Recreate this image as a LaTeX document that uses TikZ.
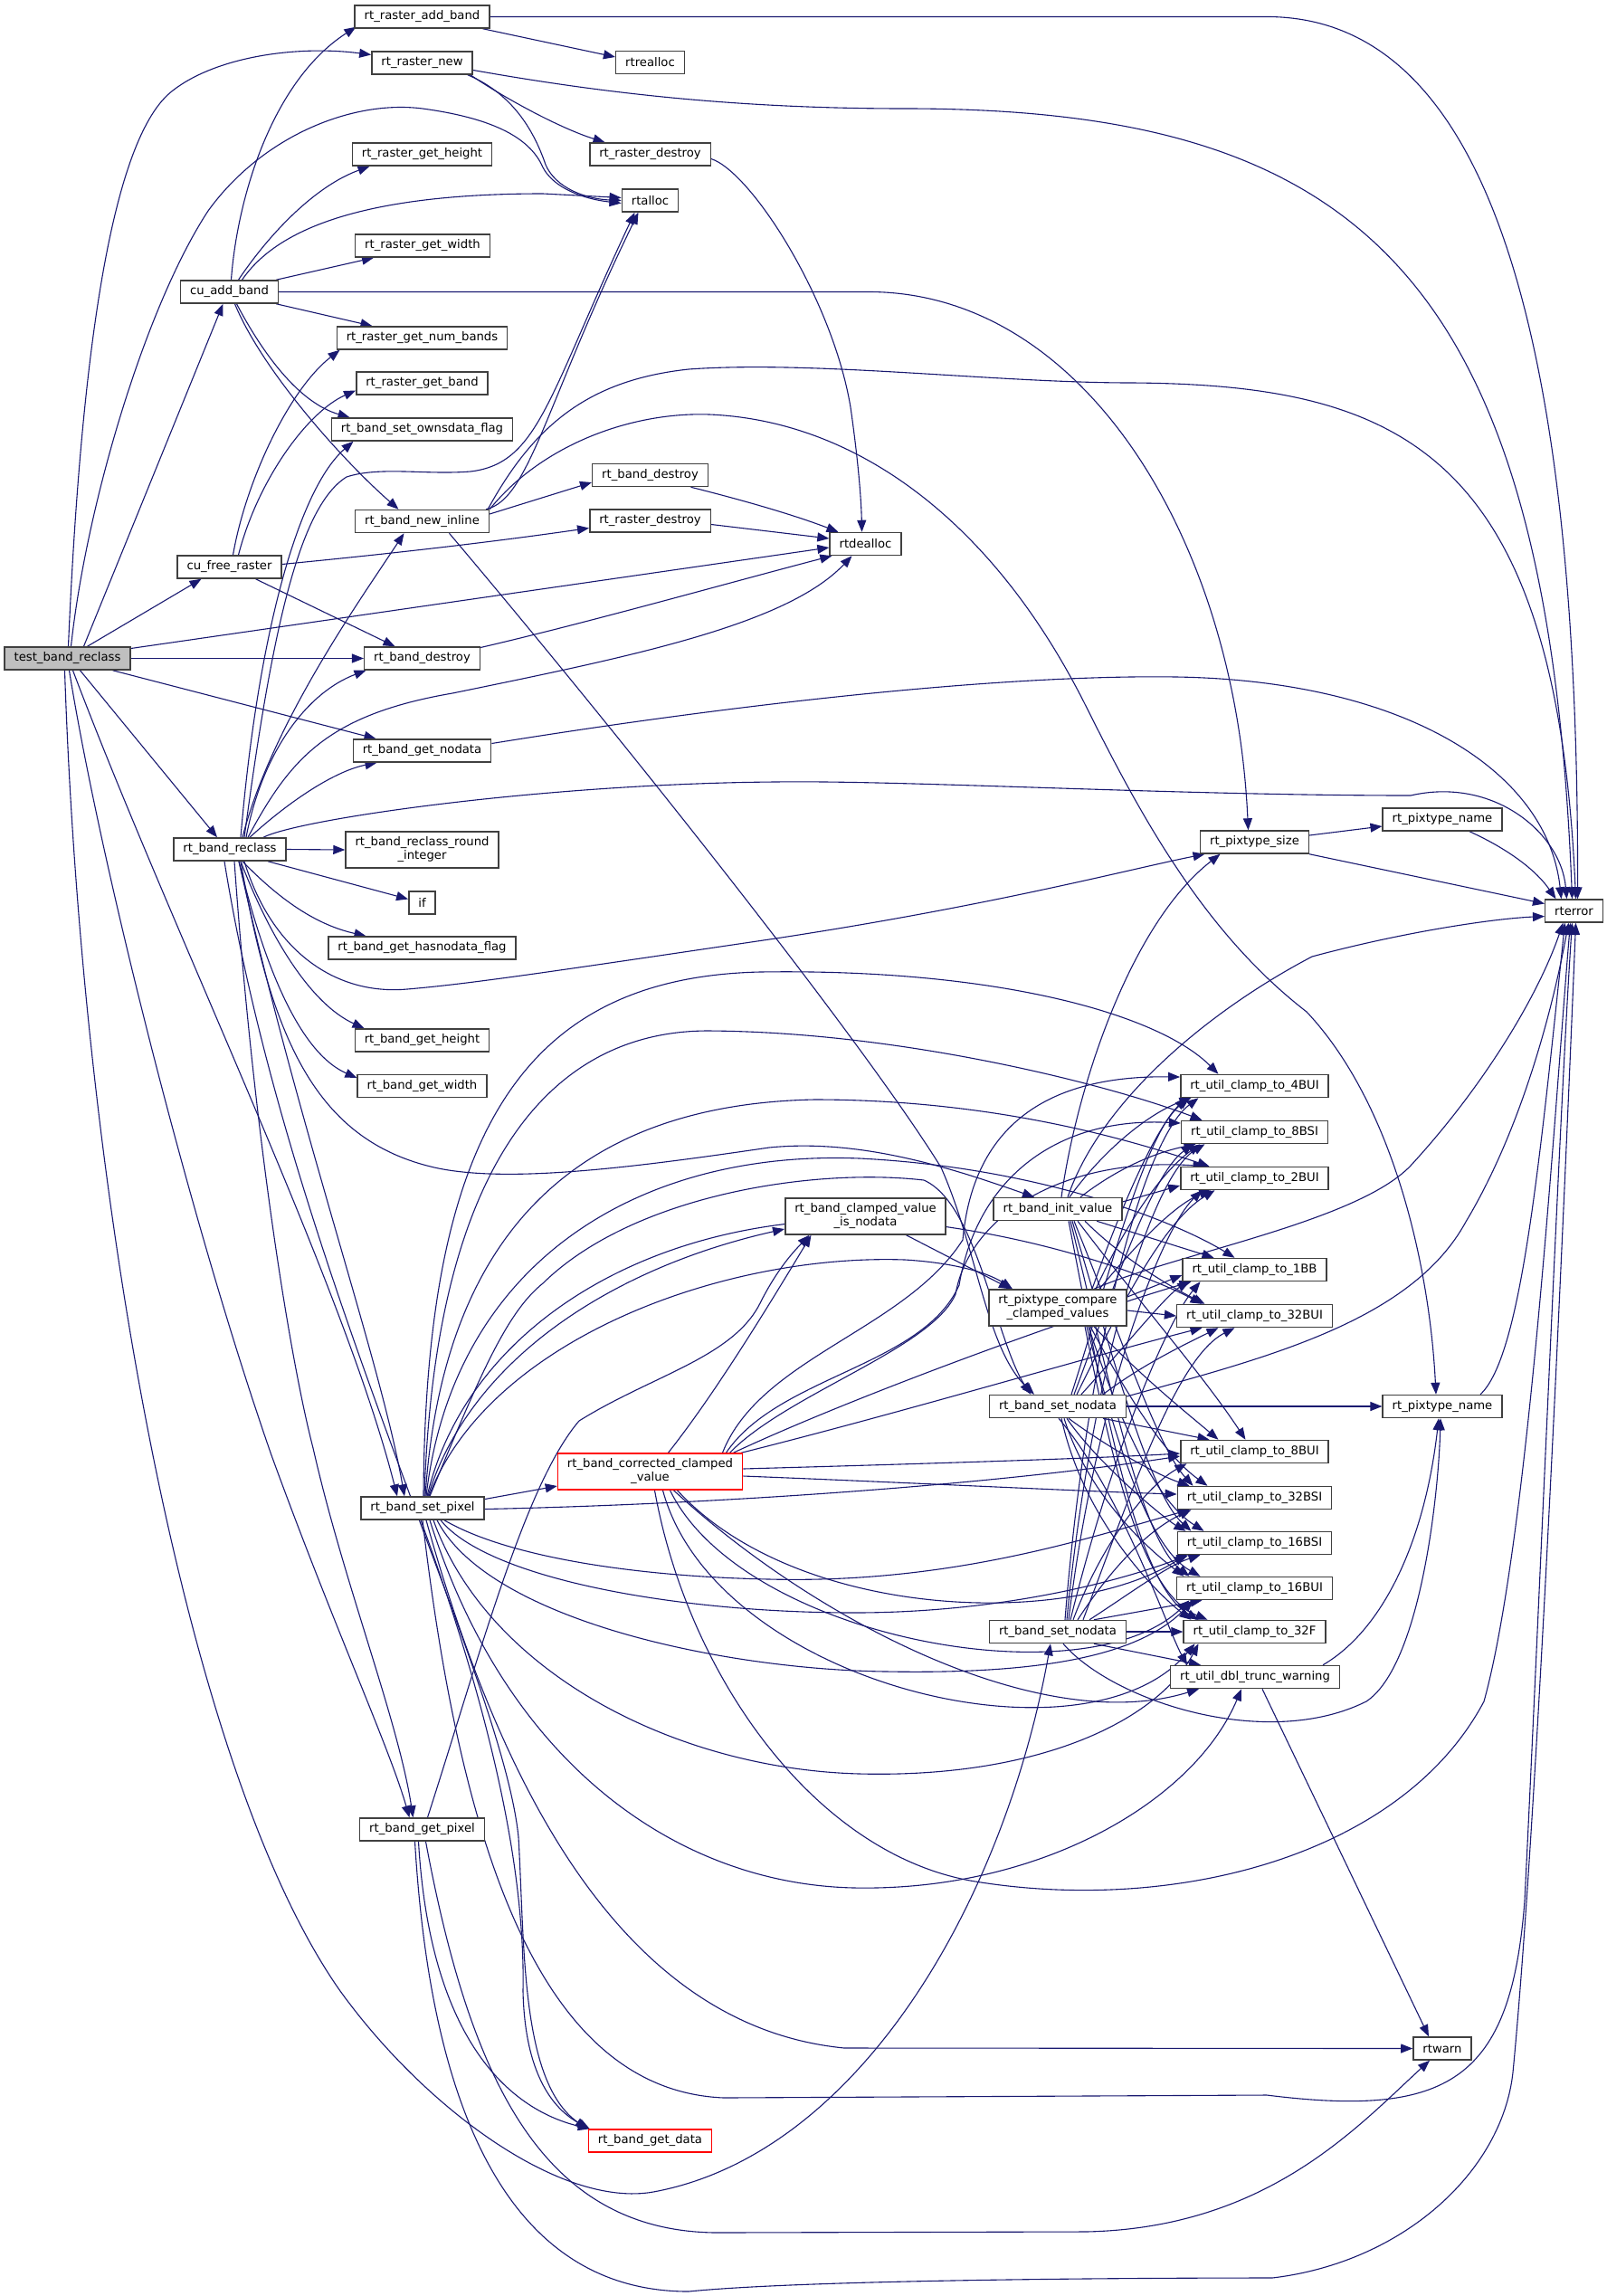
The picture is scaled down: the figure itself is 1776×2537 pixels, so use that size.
\documentclass[tikz,border=0pt]{standalone}
\usepackage{fontspec}
\setmainfont{DejaVu Sans}
\usetikzlibrary{arrows.meta}
\pgfdeclarelayer{background}
\pgfsetlayers{background,main}
\definecolor{edgeblue}{RGB}{25,25,112}
\definecolor{boxgray}{RGB}{64,64,64}
\definecolor{fillgray}{RGB}{191,191,191}
\begin{document}
\begin{tikzpicture}[x=1pt,y=-1pt,
 nd/.style={draw=boxgray,line width=1.5pt,fill=white,minimum height=25pt,inner xsep=10.5pt,inner ysep=0pt,font=\fontsize{13.2}{15}\selectfont,align=center},
 nd2/.style={nd,minimum height=40pt},
 rootnd/.style={nd,fill=fillgray},
 rednd/.style={draw=red},
 cedge/.style={draw=edgeblue,line width=1.1pt,-{Triangle[length=13pt,width=10pt]}}
]
\useasboundingbox (0,0) rectangle (1776,2537);
% ---------------- nodes
\node[rootnd] (T) at (74.5,727.5) {test\_band\_reclass};
\node[nd] (AB) at (466.5,18.5) {rt\_raster\_add\_band};
\node[nd] (RN) at (466.5,69.5) {rt\_raster\_new};
\node[nd] (RGH) at (466.5,170.5) {rt\_raster\_get\_height};
\node[nd] (RGW) at (467,271.5) {rt\_raster\_get\_width};
\node[nd] (CA) at (253.5,322.5) {cu\_add\_band};
\node[nd] (RNB) at (466.5,373.5) {rt\_raster\_get\_num\_bands};
\node[nd] (RGB) at (466.5,423.5) {rt\_raster\_get\_band};
\node[nd] (OWN) at (466.5,474.5) {rt\_band\_set\_ownsdata\_flag};
\node[nd] (NI) at (466.5,576) {rt\_band\_new\_inline};
\node[nd] (CF) at (253.5,626.5) {cu\_free\_raster};
\node[nd] (BD1) at (466.5,727.5) {rt\_band\_destroy};
\node[nd] (GN) at (466.5,829.5) {rt\_band\_get\_nodata};
\node[nd] (R) at (254,938.5) {rt\_band\_reclass};
\node[nd2] (RRI) at (466.5,939) {rt\_band\_reclass\_round\\\_integer};
\node[nd] (IF) at (466.5,997.5) {if};
\node[nd] (HND) at (466.5,1047.5) {rt\_band\_get\_hasnodata\_flag};
\node[nd] (BGH) at (466.5,1149.5) {rt\_band\_get\_height};
\node[nd] (BGW) at (466.5,1200) {rt\_band\_get\_width};
\node[nd] (SP) at (467,1666.5) {rt\_band\_set\_pixel};
\node[nd] (GP) at (466.5,2021.5) {rt\_band\_get\_pixel};
\node[nd] (RRE) at (718.5,69) {rtrealloc};
\node[nd] (RD1) at (718.5,170.5) {rt\_raster\_destroy};
\node[nd] (RA) at (718.5,221.5) {rtalloc};
\node[nd] (BD2) at (718.5,525) {rt\_band\_destroy};
\node[nd] (RD2) at (718.5,575.5) {rt\_raster\_destroy};
\node[nd] (DA) at (956.5,601) {rtdealloc};
\node[nd2] (CVN) at (956.5,1344) {rt\_band\_clamped\_value\\\_is\_nodata};
\node[nd2,rednd] (CCV) at (718.5,1626) {rt\_band\_corrected\_clamped\\\_value};
\node[nd,rednd] (GD) at (718.5,2365.5) {rt\_band\_get\_data};
\node[nd] (IV) at (1169,1336) {rt\_band\_init\_value};
\node[nd2] (PCC) at (1169,1445) {rt\_pixtype\_compare\\\_clamped\_values};
\node[nd] (SN1) at (1169,1554) {rt\_band\_set\_nodata};
\node[nd] (SN2) at (1169,1803) {rt\_band\_set\_nodata};
\node[nd] (PS) at (1386.5,930.5) {rt\_pixtype\_size};
\node[nd] (C4) at (1386.5,1200) {rt\_util\_clamp\_to\_4BUI};
\node[nd] (C8S) at (1386.5,1251) {rt\_util\_clamp\_to\_8BSI};
\node[nd] (C2) at (1386.5,1302) {rt\_util\_clamp\_to\_2BUI};
\node[nd] (C1) at (1386.5,1403) {rt\_util\_clamp\_to\_1BB};
\node[nd] (C32U) at (1386.5,1454) {rt\_util\_clamp\_to\_32BUI};
\node[nd] (C8U) at (1386.5,1604) {rt\_util\_clamp\_to\_8BUI};
\node[nd] (C32S) at (1386.5,1655) {rt\_util\_clamp\_to\_32BSI};
\node[nd] (C16S) at (1386.5,1705) {rt\_util\_clamp\_to\_16BSI};
\node[nd] (C16U) at (1386.5,1755) {rt\_util\_clamp\_to\_16BUI};
\node[nd] (C32F) at (1386.5,1803) {rt\_util\_clamp\_to\_32F};
\node[nd] (DT) at (1387,1853) {rt\_util\_dbl\_trunc\_warning};
\node[nd] (PN1) at (1594,905.5) {rt\_pixtype\_name};
\node[nd] (PN2) at (1594,1554) {rt\_pixtype\_name};
\node[nd] (E) at (1739.5,1006.5) {rterror};
\node[nd] (W) at (1594,2263.5) {rtwarn};
% ---------------- edges
\begin{pgfonlayer}{background}
\fill[white] (0,0) rectangle (1776,2537);
% test_band_reclass
\draw[cedge] ([xshift=1]T.north) .. controls (90,380) and (125,150) .. (191,100) .. controls (240,62) and (330,50) .. ([yshift=9]RN.west);
\draw[cedge] ([xshift=4]T.north) .. controls (95,560) and (160,340) .. (230,233) .. controls (290,150) and (390,110) .. (467,120) .. controls (540,130) and (585,150) .. (600,185) .. controls (612,208) and (645,220) .. ([yshift=-3]RA.west);
\draw[cedge] ([xshift=18]T.north) -- ([xshift=-7]CA.south);
\draw[cedge] ([xshift=22]T.north) -- ([xshift=-31]CF.south);
\draw[cedge] ([yshift=11]T.east) -- ([yshift=-4]DA.west);
\draw[cedge] (T.east) -- (BD1.west);
\draw[cedge] ([xshift=50]T.south) -- ([xshift=-51]GN.north);
\draw[cedge] ([xshift=14]T.south) -- ([xshift=-14]R.north);
\draw[cedge] ([xshift=6]T.south) .. controls (190,1030) and (380,1420) .. ([xshift=-28]SP.north);
\draw[cedge] ([xshift=2]T.south) .. controls (110,950) and (210,1350) .. (300,1608) .. controls (370,1800) and (430,1930) .. ([xshift=-14]GP.north);
\draw[cedge] ([xshift=-3]T.south) .. controls (90,1300) and (200,1950) .. (376,2200) .. controls (470,2330) and (620,2440) .. (722,2422) .. controls (950,2380) and (1110,2100) .. ([xshift=-8]SN2.south);
% cu_add_band
\draw[cedge] ([xshift=2]CA.north) .. controls (262,220) and (300,90) .. ([xshift=2,yshift=2]AB.south west);
\draw[cedge] ([xshift=10]CA.north) .. controls (300,255) and (350,205) .. ([xshift=-58]RGH.south);
\draw[cedge] ([xshift=14]CA.north) .. controls (300,262) and (380,214) .. (600,214) -- ([yshift=3]RA.west);
\draw[cedge] ([xshift=-3]CA.north east) -- ([xshift=-54]RGW.south);
\draw[cedge] (CA.east) -- (960,322.5) .. controls (1200,322.5) and (1365,600) .. ([xshift=-7]PS.north);
\draw[cedge] ([xshift=-3]CA.south east) -- ([xshift=-55]RNB.north);
\draw[cedge] ([xshift=8]CA.south) .. controls (290,390) and (330,445) .. ([xshift=-80]OWN.north);
\draw[cedge] ([xshift=6]CA.south) .. controls (290,410) and (380,510) .. ([xshift=-26]NI.north);
% cu_free_raster
\draw[cedge] ([xshift=4]CF.north) .. controls (272,530) and (320,430) .. ([xshift=4]RNB.south west);
\draw[cedge] ([xshift=10]CF.north) .. controls (285,530) and (340,455) .. ([yshift=-8]RGB.west);
\draw[cedge] ([yshift=3]CF.east) .. controls (450,610) and (550,598) .. ([yshift=-8]RD2.west);
\draw[cedge] ([xshift=29]CF.south) -- ([xshift=-30]BD1.north);
% rt_band_reclass
\draw[cedge] (R.east) -- (RRI.west);
\draw[cedge] ([xshift=42]R.south) -- ([yshift=4]IF.west);
\draw[cedge] ([xshift=14]R.south) .. controls (310,995) and (350,1022) .. ([xshift=-62]HND.north);
\draw[cedge] ([xshift=12]R.south) .. controls (300,1040) and (345,1110) .. ([xshift=-64]BGH.north);
\draw[cedge] ([xshift=10]R.south) .. controls (295,1080) and (335,1165) .. ([yshift=9]BGW.west);
\draw[cedge] ([xshift=37]R.north) .. controls (330,905) and (600,866) .. (857,864) .. controls (1000,862) and (1300,879) .. (1559,879) .. controls (1650,858) and (1725,920) .. ([xshift=-8]E.north);
\draw[cedge] ([xshift=16]R.south) .. controls (300,1050) and (370,1100) .. (450,1093) .. controls (520,1087) and (600,1075) .. (857,1037) .. controls (1100,1000) and (1250,960) .. ([xshift=-55]PS.south);
\draw[cedge] ([xshift=14]R.north) .. controls (300,800) and (400,660) .. ([xshift=-20]NI.south);
\draw[cedge] ([xshift=12]R.north) .. controls (285,700) and (330,540) .. ([xshift=-76]OWN.south);
\draw[cedge] ([xshift=18]R.north) .. controls (290,830) and (340,765) .. ([xshift=-62]BD1.south);
\draw[cedge] ([xshift=22]R.north) .. controls (320,885) and (370,852) .. ([xshift=-50]GN.south);
\draw[cedge] ([xshift=20]R.north) .. controls (320,840) and (360,790) .. (500,766) .. controls (700,725) and (870,690) .. ([xshift=-15]DA.south);
\draw[cedge] ([xshift=16]R.north) .. controls (300,700) and (330,560) .. (383,527) .. controls (420,515) and (470,525) .. (520,521) .. controls (595,512) and (605,440) .. ([xshift=-17]RA.south);
\draw[cedge] ([xshift=12]R.south) .. controls (300,1150) and (350,1260) .. (480,1290) .. controls (560,1308) and (700,1290) .. (850,1268) .. controls (950,1258) and (1050,1290) .. ([xshift=-26]IV.north);
\draw[cedge] ([xshift=10]R.south) .. controls (330,1250) and (420,1500) .. ([xshift=-20]SP.north);
\draw[cedge] ([xshift=5]R.south) .. controls (280,1250) and (320,1500) .. (346,1600) .. controls (380,1750) and (440,1900) .. ([xshift=-10]GP.north);
\draw[cedge] ([xshift=-6]R.south) .. controls (320,1400) and (555,1850) .. (573,2030) .. controls (580,2150) and (575,2300) .. ([xshift=-1]GD.north west);
% rt_band_new_inline
\draw[cedge] ([yshift=8]NI.east) -- ([yshift=-8]BD2.west);
\draw[cedge] ([xshift=-4]NI.north east) .. controls (585,552) and (603,445) .. ([xshift=-13]RA.south);
\draw[cedge] ([xshift=-2]NI.north east) .. controls (590,470) and (650,420) .. (761,408) .. controls (900,398) and (1100,423) .. (1250,423) .. controls (1550,425) and (1720,500) .. ([xshift=2]E.north);
\draw[cedge] (NI.north east) .. controls (600,490) and (700,455) .. (784,458) .. controls (950,465) and (1100,580) .. (1200,780) .. controls (1260,900) and (1330,1030) .. (1444,1118) .. controls (1540,1220) and (1580,1400) .. ([xshift=-7]PN2.north);
\draw[cedge] ([xshift=30]NI.south) .. controls (700,830) and (960,1160) .. (1040,1290) .. controls (1080,1380) and (1090,1490) .. ([xshift=-26]SN1.north);
% raster add / new
\draw[cedge] ([xshift=-8]AB.south east) -- ([yshift=6]RRE.west);
\draw[cedge] (AB.east) -- (1400,18.5) .. controls (1620,18.5) and (1745,300) .. ([xshift=4]E.north);
\draw[cedge] ([xshift=-3]RN.south east) .. controls (560,110) and (620,142) .. ([xshift=-50]RD1.north);
\draw[cedge] ([xshift=-6]RN.south east) .. controls (570,105) and (592,150) .. (603,182) .. controls (614,208) and (648,220) .. (RA.west);
\draw[cedge] ([yshift=-8]RN.east) .. controls (650,100) and (800,120) .. (1000,120) .. controls (1500,120) and (1710,300) .. ([xshift=-2]E.north);
% dealloc
\draw[cedge] ([yshift=-5]RD1.east) .. controls (830,190) and (920,330) .. (940,450) .. controls (950,520) and (952,560) .. ([xshift=-4]DA.north);
\draw[cedge] ([xshift=45]BD2.south) .. controls (830,555) and (880,570) .. ([xshift=-30]DA.north);
\draw[cedge] ([yshift=-4]RD2.east) -- ([yshift=6]DA.west);
\draw[cedge] ([yshift=12]BD1.east) .. controls (650,688) and (820,640) .. ([xshift=3]DA.south west);
\draw[cedge] ([yshift=8]GN.east) .. controls (800,780) and (1100,745) .. (1300,748) .. controls (1550,752) and (1710,850) .. ([xshift=-14]E.north);
% pixtype / rterror
\draw[cedge] ([yshift=7.5]PS.east) -- ([yshift=-7.5]PN1.west);
\draw[cedge] (PS.south east) -- ([yshift=8]E.west);
\draw[cedge] ([xshift=30]PN1.south) .. controls (1660,935) and (1695,958) .. ([xshift=-20]E.north);
\draw[cedge] ([xshift=42]PN2.north) .. controls (1680,1500) and (1700,1300) .. ([xshift=-10]E.south);
\draw[cedge] ([xshift=75]DT.north) .. controls (1530,1800) and (1575,1700) .. ([xshift=-4]PN2.south);
\draw[cedge] ([xshift=8]DT.south) -- ([xshift=-15]W.north);
\draw[cedge] ([xshift=45]CVN.south) -- ([xshift=-52]PCC.north);
% rt_band_init_value
\draw[cedge] ([xshift=4]IV.north) .. controls (1190,1200) and (1250,1020) .. ([xshift=-38]PS.south);
\draw[cedge] ([xshift=11]IV.north) .. controls (1215,1220) and (1330,1120) .. (1450,1057) .. controls (1550,1030) and (1650,1015) .. ([yshift=-6]E.west);
\draw[cedge] ([xshift=13]IV.north) .. controls (1220,1270) and (1270,1230) .. ([xshift=-70]C4.south);
\draw[cedge] ([xshift=25]IV.north) .. controls (1230,1295) and (1270,1275) .. ([xshift=-65]C8S.south);
\draw[cedge] ([yshift=8]IV.east) -- ([yshift=-8]C2.west);
\draw[cedge] ([xshift=43]IV.south) -- ([xshift=-45]C1.north);
\draw[cedge] ([xshift=30]IV.south) .. controls (1240,1390) and (1290,1420) .. ([xshift=-55]C32U.north);
\draw[cedge] ([xshift=22]IV.south) .. controls (1260,1440) and (1330,1520) .. ([xshift=-10]C8U.north);
\draw[cedge] ([xshift=18]IV.south) .. controls (1240,1480) and (1280,1600) .. ([xshift=-68]C32S.north);
\draw[cedge] ([xshift=16]IV.south) .. controls (1230,1500) and (1270,1650) .. ([xshift=-70]C16S.north);
\draw[cedge] ([xshift=14]IV.south) .. controls (1225,1520) and (1260,1700) .. ([xshift=-72]C16U.north);
\draw[cedge] ([xshift=12]IV.south) .. controls (1220,1550) and (1255,1750) .. ([xshift=-62]C32F.north);
% rt_pixtype_compare_clamped_values
\draw[cedge] ([xshift=38]PCC.north) .. controls (1240,1330) and (1280,1240) .. ([xshift=-72]C4.south);
\draw[cedge] ([xshift=42]PCC.north) .. controls (1250,1340) and (1290,1290) .. ([xshift=-60]C8S.south);
\draw[cedge] ([xshift=46]PCC.north) .. controls (1260,1370) and (1300,1330) .. ([xshift=-48]C2.south);
\draw[cedge] ([yshift=12]PCC.east) -- ([yshift=-6]C1.west);
\draw[cedge] ([yshift=-3]PCC.east) -- (C32U.west);
\draw[cedge] ([xshift=40]PCC.south) .. controls (1260,1520) and (1310,1560) .. ([xshift=-40]C8U.north);
\draw[cedge] ([xshift=36]PCC.south) .. controls (1250,1550) and (1290,1610) .. ([xshift=-52]C32S.north);
\draw[cedge] ([xshift=34]PCC.south) .. controls (1240,1580) and (1280,1660) .. ([xshift=-56]C16S.north);
\draw[cedge] ([xshift=32]PCC.south) .. controls (1235,1600) and (1270,1710) .. ([xshift=-60]C16U.north);
\draw[cedge] ([xshift=30]PCC.south) .. controls (1230,1620) and (1262,1760) .. ([xshift=-52]C32F.north);
\draw[cedge] ([xshift=40]PCC.north) .. controls (1300,1385) and (1500,1350) .. (1559,1288) .. controls (1640,1200) and (1700,1100) .. ([xshift=-12]E.south);
% rt_band_set_nodata (1)
\draw[cedge] (SN1.east) -- (PN2.west);
\draw[cedge] ([yshift=11]SN1.east) .. controls (1400,1500) and (1560,1460) .. (1620,1350) .. controls (1680,1250) and (1715,1120) .. ([xshift=-6]E.south);
\draw[cedge] ([xshift=15]SN1.north) .. controls (1220,1430) and (1262,1260) .. ([xshift=-75]C4.south);
\draw[cedge] ([xshift=18]SN1.north) .. controls (1225,1440) and (1270,1300) .. ([xshift=-68]C8S.south);
\draw[cedge] ([xshift=21]SN1.north) .. controls (1235,1450) and (1285,1350) .. ([xshift=-44]C2.south);
\draw[cedge] ([xshift=26]SN1.north) .. controls (1250,1480) and (1290,1430) .. ([xshift=-72]C1.south);
\draw[cedge] ([xshift=50]SN1.north) .. controls (1260,1510) and (1300,1490) .. ([xshift=-40]C32U.south);
\draw[cedge] ([xshift=50]SN1.south) -- ([xshift=-50]C8U.north);
\draw[cedge] ([xshift=12]SN1.south) .. controls (1225,1600) and (1280,1630) .. ([xshift=-72]C32S.north);
\draw[cedge] ([xshift=10]SN1.south) .. controls (1215,1620) and (1290,1680) .. ([xshift=-76]C16S.north);
\draw[cedge] ([xshift=7]SN1.south) .. controls (1205,1660) and (1280,1720) .. ([xshift=-78]C16U.north);
\draw[cedge] ([xshift=4]SN1.south) .. controls (1200,1690) and (1290,1770) .. ([xshift=-70]C32F.north);
\draw[cedge] ([xshift=1]SN1.south) .. controls (1240,1650) and (1290,1800) .. ([xshift=-75]DT.north);
% rt_band_set_nodata (2)
\draw[cedge] (SN2.east) -- (C32F.west);
\draw[cedge] ([xshift=40]SN2.south) -- ([xshift=-60]DT.north);
\draw[cedge] ([xshift=40]SN2.north) -- ([xshift=-58]C16U.south);
\draw[cedge] ([xshift=35]SN2.north) .. controls (1250,1760) and (1290,1730) .. ([xshift=-60]C16S.south);
\draw[cedge] ([xshift=22]SN2.north) .. controls (1230,1730) and (1270,1690) .. ([xshift=-70]C32S.south);
\draw[cedge] ([xshift=17]SN2.north) .. controls (1220,1700) and (1270,1640) .. ([xshift=-75]C8U.south);
\draw[cedge] ([xshift=28]SN2.north) .. controls (1250,1650) and (1300,1500) .. ([xshift=-22]C32U.south);
\draw[cedge] ([xshift=14]SN2.north) .. controls (1230,1600) and (1290,1460) .. ([xshift=-60]C1.south);
\draw[cedge] ([xshift=12]SN2.north) .. controls (1210,1550) and (1282,1360) .. ([xshift=-58]C2.south);
\draw[cedge] ([xshift=10]SN2.north) .. controls (1205,1520) and (1272,1300) .. ([xshift=-55]C8S.south);
\draw[cedge] ([xshift=8]SN2.north) .. controls (1200,1500) and (1262,1260) .. ([xshift=-62]C4.south);
\draw[cedge] ([xshift=6]SN2.south) .. controls (1230,1880) and (1400,1935) .. (1510,1880) .. controls (1570,1840) and (1590,1650) .. ([xshift=-2]PN2.south);
% rt_band_corrected_clamped_value
\draw[cedge] ([xshift=20]CCV.north) .. controls (790,1540) and (845,1450) .. ([xshift=-60]CVN.south);
\draw[cedge] ([xshift=80]CCV.north) .. controls (840,1500) and (1000,1470) .. (1064,1370) .. controls (1075,1250) and (1150,1188) .. ([yshift=10]C4.west);
\draw[cedge] ([xshift=84]CCV.north) .. controls (860,1520) and (1020,1510) .. (1060,1420) .. controls (1080,1300) and (1170,1234) .. ([yshift=10]C8S.west);
\draw[cedge] ([xshift=88]CCV.north) .. controls (870,1540) and (1030,1490) .. (1056,1430) .. controls (1072,1340) and (1180,1278) .. ([xshift=-55]C2.north);
\draw[cedge] ([xshift=92]CCV.north) .. controls (950,1540) and (1200,1450) .. ([xshift=-70]C1.south);
\draw[cedge] ([xshift=-2]CCV.north east) .. controls (1000,1560) and (1200,1500) .. ([xshift=-58]C32U.south);
\draw[cedge] ([yshift=3]CCV.east) .. controls (1000,1618) and (1200,1612) .. ([yshift=-2]C8U.west);
\draw[cedge] ([yshift=-5]CCV.east) .. controls (1000,1638) and (1200,1648) .. ([yshift=4]C32S.west);
\draw[cedge] ([xshift=30]CCV.south) .. controls (880,1790) and (1180,1800) .. ([xshift=-76]C16S.south);
\draw[cedge] ([xshift=22]CCV.south) .. controls (820,1810) and (1200,1880) .. ([xshift=-72]C16U.south);
\draw[cedge] ([xshift=14]CCV.south) .. controls (790,1860) and (1200,1960) .. ([xshift=-66]C32F.south);
\draw[cedge] ([xshift=26]CCV.south) .. controls (900,1790) and (1150,1920) .. ([xshift=-62]DT.south);
\draw[cedge] ([xshift=5]CCV.south) .. controls (760,1850) and (900,2050) .. (1078,2079) .. controls (1300,2115) and (1550,2050) .. (1640,1880) .. controls (1690,1700) and (1720,1200) .. ([xshift=-4]E.south);
% rt_band_set_pixel
\draw[cedge] ([yshift=10]SP.east) -- ([yshift=-16]CCV.west);
\draw[cedge] ([yshift=-1]SP.east) .. controls (800,1662) and (1100,1640) .. ([yshift=-5]C8U.west);
\draw[cedge] ([xshift=6]SP.north) .. controls (520,1500) and (680,1400) .. ([yshift=-14]CVN.west);
\draw[cedge] ([xshift=8]SP.north) .. controls (530,1520) and (560,1450) .. (600,1418) .. controls (700,1320) and (900,1290) .. (1021,1304) .. controls (1080,1330) and (1100,1480) .. ([xshift=-30]SN1.north);
\draw[cedge] ([xshift=1]SP.north) .. controls (470,1250) and (580,1080) .. (840,1074) .. controls (1100,1070) and (1280,1120) .. ([xshift=-40]C4.north);
\draw[cedge] ([xshift=2]SP.north) .. controls (480,1300) and (600,1140) .. (781,1139) .. controls (1000,1140) and (1230,1200) .. ([xshift=-58]C8S.north);
\draw[cedge] ([xshift=3]SP.north) .. controls (490,1350) and (650,1220) .. (900,1215) .. controls (1100,1215) and (1250,1260) .. ([xshift=-50]C2.north);
\draw[cedge] ([xshift=4]SP.north) .. controls (500,1400) and (700,1270) .. (950,1280) .. controls (1150,1290) and (1300,1350) .. ([xshift=-22]C1.north);
\draw[cedge] ([xshift=5]SP.north) .. controls (520,1450) and (750,1330) .. (1000,1350) .. controls (1150,1365) and (1270,1410) .. ([xshift=-58]C32U.north);
\draw[cedge] ([xshift=7]SP.north) .. controls (540,1480) and (800,1385) .. (1000,1392) .. controls (1050,1395) and (1090,1405) .. ([xshift=-50]PCC.north);
\draw[cedge] ([xshift=24]SP.south) .. controls (560,1720) and (700,1742) .. (850,1745) .. controls (1050,1750) and (1200,1700) .. ([xshift=-72]C32S.south);
\draw[cedge] ([xshift=20]SP.south) .. controls (540,1745) and (750,1782) .. (944,1782) .. controls (1100,1782) and (1230,1750) .. ([xshift=-73]C16S.south);
\draw[cedge] ([xshift=16]SP.south) .. controls (540,1790) and (800,1845) .. (980,1847) .. controls (1150,1850) and (1260,1830) .. ([xshift=-68]C16U.south);
\draw[cedge] ([xshift=12]SP.south) .. controls (540,1850) and (750,1955) .. (950,1960) .. controls (1150,1965) and (1280,1900) .. ([xshift=-62]C32F.south);
\draw[cedge] ([xshift=8]SP.south) .. controls (560,1950) and (750,2082) .. (944,2086) .. controls (1150,2090) and (1320,1990) .. ([xshift=-15]DT.south);
\draw[cedge] ([xshift=4]SP.south) .. controls (560,2000) and (700,2240) .. (933,2263) -- (W.west);
\draw[cedge] (SP.south) .. controls (510,2050) and (600,2310) .. (800,2318) -- (1400,2315) .. controls (1600,2340) and (1670,2300) .. (1685,2100) .. controls (1700,1800) and (1725,1200) .. ([xshift=-2]E.south);
\draw[cedge] ([xshift=-2]SP.south) .. controls (560,1940) and (580,2100) .. (578,2200) .. controls (580,2290) and (610,2330) .. ([xshift=2]GD.north west);
% rt_band_get_pixel
\draw[cedge] ([xshift=6]GP.north) .. controls (530,1830) and (580,1640) .. (640,1570) .. controls (720,1520) and (810,1500) .. (840,1440) .. controls (860,1400) and (880,1380) .. ([xshift=-62]CVN.south);
\draw[cedge] ([xshift=-4]GP.south) .. controls (475,2250) and (560,2330) .. ([xshift=2]GD.north west);
\draw[cedge] ([xshift=4]GP.south) .. controls (520,2300) and (600,2465) .. (791,2467) -- (1200,2466) .. controls (1400,2462) and (1500,2350) .. ([xshift=-14]W.south);
\draw[cedge] ([xshift=-8]GP.south) .. controls (480,2400) and (600,2532) .. (761,2532) .. controls (900,2518) and (1300,2517) .. (1406,2517) .. controls (1550,2500) and (1660,2400) .. (1672,2290) .. controls (1700,2000) and (1730,1300) .. ([xshift=2]E.south);
\end{pgfonlayer}
\end{tikzpicture}
\end{document}
